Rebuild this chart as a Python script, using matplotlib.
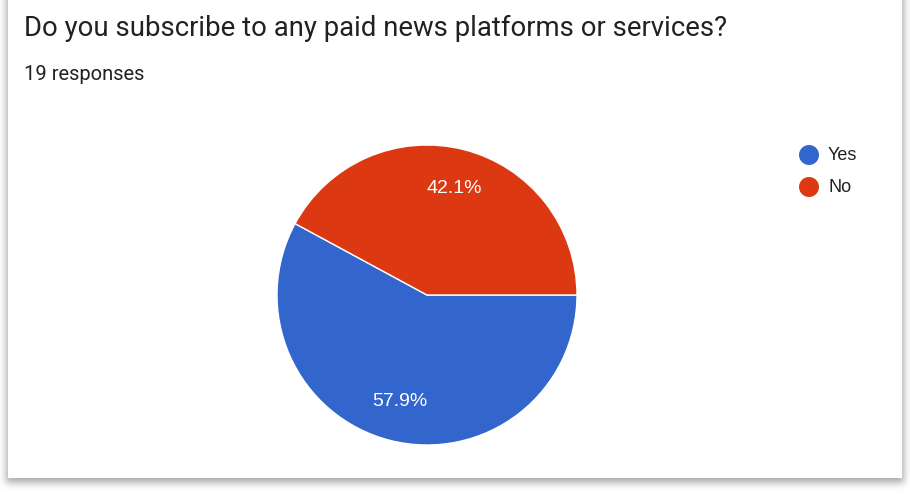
import matplotlib
matplotlib.use("Agg")
import numpy as np
import matplotlib.pyplot as plt
from matplotlib.patches import Rectangle, Ellipse

plt.rcParams['font.family'] = ['Roboto', 'DejaVu Sans']

title = "Do you subscribe to any paid news platforms or services?"
subtitle = "19 responses"
labels = ["Yes", "No"]
values = [11, 8]
colors = ["#3366CC", "#DC3912"]

W, H = 910, 494
fig = plt.figure(figsize=(W / 100, H / 100), dpi=100)
fig.patch.set_facecolor("white")

def fx(px):
    return px / W

def fy(py):
    return 1 - py / H

# soft card shadow as a background image
card_l, card_r, card_t, card_b = 8, 902, -2, 478
mask = np.zeros((H, W))
mask[0:card_b + 5, card_l - 2:card_r + 2] = 1.0

def blur1d(a, k, axis):
    pad = [(0, 0), (0, 0)]
    pad[axis] = (k, k)
    ap = np.pad(a, pad, mode="edge")
    c = np.cumsum(ap, axis=axis)
    c = np.insert(c, 0, 0, axis=axis)
    n = a.shape[axis]
    if axis == 0:
        return (c[2 * k + 1:2 * k + 1 + n, :] - c[0:n, :]) / (2 * k + 1)
    return (c[:, 2 * k + 1:2 * k + 1 + n] - c[:, 0:n]) / (2 * k + 1)

for _ in range(3):
    mask = blur1d(mask, 3, 0)
    mask = blur1d(mask, 3, 1)
shade = 1 - 0.32 * mask
img = np.dstack([shade, shade, shade])
fig.figimage(img, 0, 0, origin="upper", zorder=0)

fig.patches.append(Rectangle((fx(card_l), fy(card_b)), fx(card_r - card_l), fy(card_t) - fy(card_b),
                             transform=fig.transFigure, facecolor="white", edgecolor="none", zorder=1))

fig.text(fx(24), fy(28), title, fontsize=19.8, color="#202124", va="center", ha="left", zorder=3)
fig.text(fx(24), fy(74), subtitle, fontsize=14.5, color="#202124", va="center", ha="left", zorder=3)

# pie
cx, cy, r = 427, 295, 150
ax = fig.add_axes([fx(cx - r), fy(cy + r), fx(2 * r), fy(cy - r) - fy(cy + r)], zorder=2)
ax.set_facecolor("none")
wedges, texts, autotexts = ax.pie(values, colors=colors, startangle=0, counterclock=False,
                                  autopct="%1.1f%%", pctdistance=0.73, radius=1,
                                  wedgeprops=dict(edgecolor="white", linewidth=1))
for t in autotexts:
    t.set_color("white")
    t.set_fontsize(14)
    t.set_family(["Liberation Sans", "DejaVu Sans"])
ax.set_xlim(-1.0, 1.0)
ax.set_ylim(-1.0, 1.0)
ax.set_aspect("equal")
ax.axis("off")

# legend
for i, (lab, col) in enumerate(zip(labels, colors)):
    y = 155 + 32 * i
    fig.patches.append(Ellipse((fx(809), fy(y)), 20 / W, 20 / H, transform=fig.transFigure,
                               facecolor=col, edgecolor="none", zorder=3))
    fig.text(fx(828), fy(y), lab, fontsize=13, color="#222222", va="center", ha="left",
             family=["Liberation Sans", "DejaVu Sans"], zorder=3)

fig.savefig("out.png", dpi=100)
